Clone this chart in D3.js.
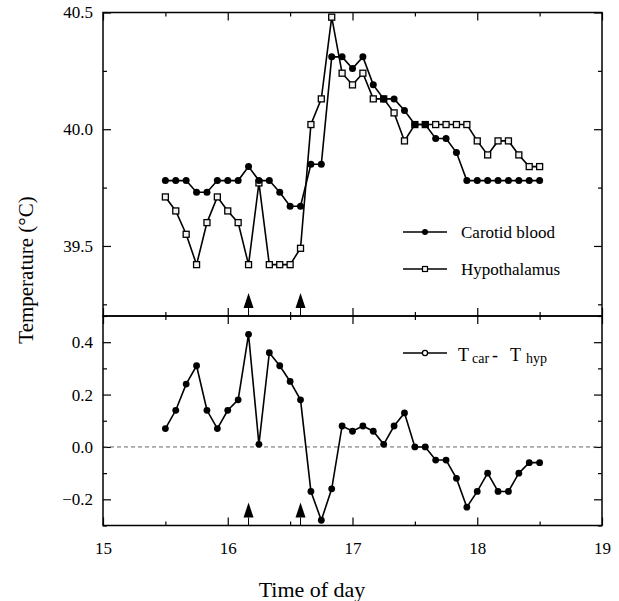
<!DOCTYPE html>
<html>
<head>
<meta charset="utf-8">
<script src="https://cdn.jsdelivr.net/npm/d3@7"></script>
<style>
  body { margin: 0; background: #fff; }
  svg { display: block; }
  text { font-family: "Liberation Serif", "Times New Roman", serif; fill: #000; }
</style>
</head>
<body>
<svg id="chart" width="619" height="601"></svg>
<script>
// Sampling times (every 5 min)
const times = ["15:30","15:35","15:40","15:45","15:50","15:55","16:00","16:05","16:10","16:15",
               "16:20","16:25","16:30","16:35","16:40","16:45","16:50","16:55","17:00","17:05",
               "17:10","17:15","17:20","17:25","17:30","17:35","17:40","17:45","17:50","17:55",
               "18:00","18:05","18:10","18:15","18:20","18:25","18:30"];

// Carotid blood temperature (°C)
const carotid = [39.78,39.78,39.78,39.73,39.73,39.78,39.78,39.78,39.84,39.78,
                 39.78,39.73,39.67,39.67,39.85,39.85,40.31,40.31,40.26,40.31,
                 40.19,40.13,40.13,40.08,40.02,40.02,39.96,39.96,39.90,39.78,
                 39.78,39.78,39.78,39.78,39.78,39.78,39.78];

// Hypothalamic temperature (°C)
const hypothalamus = [39.71,39.65,39.55,39.42,39.60,39.71,39.65,39.60,39.42,39.77,
                      39.42,39.42,39.42,39.49,40.02,40.13,40.48,40.24,40.19,40.24,
                      40.13,40.13,40.07,39.95,40.02,40.02,40.02,40.02,40.02,40.02,
                      39.95,39.89,39.95,39.95,39.89,39.84,39.84];

// T car - T hyp (°C)
const difference = [0.07,0.14,0.24,0.31,0.14,0.07,0.14,0.18,0.43,0.01,
                    0.36,0.31,0.25,0.18,-0.17,-0.28,-0.16,0.08,0.06,0.08,
                    0.06,0.01,0.08,0.13,0.00,0.00,-0.05,-0.05,-0.12,-0.23,
                    -0.17,-0.10,-0.17,-0.17,-0.10,-0.06,-0.06];

// Event markers
const arrowTimes = ["16:10","16:35"];

// Axis ticks
const xMajor = [15,16,17,18,19];
const xMinor = [15.5,16.5,17.5,18.5];
const topMajor = [39.5,40.0,40.5];
const topMinor = [39.25,39.75,40.25];
const botMajor = [-0.2,0.0,0.2,0.4];
const botMinor = [-0.3,-0.1,0.1,0.3,0.5];

const toHours = s => { const [h, m] = s.split(":").map(Number); return h + m / 60; };

const SERIF = '"Liberation Serif", "Times New Roman", serif';
const svg = d3.select("#chart");

const L = 103, R = 602, T0 = 12.5, MID = 316, B = 525.5;
const x = d3.scaleLinear().domain([15, 19]).range([L, R]);
const yTop = d3.scaleLinear().domain([39.2, 40.5]).range([MID, T0]);
const yBot = d3.scaleLinear().domain([-0.3, 0.5]).range([B, MID]);

const fmt = d3.format(".1f");
const MAJ = 8, MIN = 4;

function axis(gen, size, values, format, tx, ty, showLabels) {
  const a = gen.tickValues(values).tickSize(-size).tickPadding(showLabels ? 10 : 0)
    .tickFormat(showLabels ? format : "");
  const g = svg.append("g").attr("transform", `translate(${tx},${ty})`).call(a)
    .attr("font-family", SERIF).attr("font-size", 17);
  g.select(".domain").remove();
  g.selectAll(".tick line").attr("stroke", "#000").attr("stroke-width", 1.2);
  g.selectAll("text").attr("font-family", SERIF).style("font-family", SERIF).style("font-size", "17px");
  return g;
}

// Top panel ticks
axis(d3.axisLeft(yTop), MAJ, topMajor, fmt, L, 0, true);
axis(d3.axisLeft(yTop), MIN, topMinor, fmt, L, 0, false);
axis(d3.axisRight(yTop), MAJ, topMajor, fmt, R, 0, false);
axis(d3.axisRight(yTop), MIN, topMinor, fmt, R, 0, false);
axis(d3.axisTop(x), MAJ, xMajor, null, 0, T0, false);
axis(d3.axisTop(x), MIN, xMinor, null, 0, T0, false);
axis(d3.axisBottom(x), MAJ, xMajor, null, 0, MID, false);
axis(d3.axisBottom(x), MIN, xMinor, null, 0, MID, false);

// Bottom panel ticks
axis(d3.axisLeft(yBot), MAJ, botMajor, fmt, L, 0, true);
axis(d3.axisLeft(yBot), MIN, botMinor, fmt, L, 0, false);
axis(d3.axisRight(yBot), MAJ, botMajor, fmt, R, 0, false);
axis(d3.axisRight(yBot), MIN, botMinor, fmt, R, 0, false);
axis(d3.axisTop(x), MAJ, xMajor, null, 0, MID, false);
axis(d3.axisTop(x), MIN, xMinor, null, 0, MID, false);
const xb = axis(d3.axisBottom(x), MAJ, xMajor, d3.format("d"), 0, B, true);
xb.selectAll("text").attr("y", 16);
axis(d3.axisBottom(x), MIN, xMinor, null, 0, B, false);

// Zero reference line
svg.append("line")
  .attr("x1", L).attr("x2", R).attr("y1", yBot(0)).attr("y2", yBot(0))
  .attr("stroke", "#666").attr("stroke-width", 1).attr("stroke-dasharray", "4,3");

// Event arrows in both panels
arrowTimes.map(toHours).forEach(t => {
  const ax = x(t);
  [[MID, 8], [B, 8]].forEach(([base, stem]) => {
    svg.append("line").attr("x1", ax).attr("x2", ax).attr("y1", base - stem).attr("y2", base)
      .attr("stroke", "#000").attr("stroke-width", 1);
    svg.append("path")
      .attr("d", `M${ax - 5},${base - stem} L${ax + 5},${base - stem} L${ax},${base - stem - 15} Z`)
      .attr("fill", "#000");
  });
});

// Panel frames
svg.append("rect").attr("x", L).attr("y", T0).attr("width", R - L).attr("height", MID - T0)
  .attr("fill", "none").attr("stroke", "#000").attr("stroke-width", 1.5);
svg.append("rect").attr("x", L).attr("y", MID).attr("width", R - L).attr("height", B - MID)
  .attr("fill", "none").attr("stroke", "#000").attr("stroke-width", 1.5);

const hours = times.map(toHours);
const lineStyle = sel => sel.attr("fill", "none").attr("stroke", "#000").attr("stroke-width", 1.6);

// Hypothalamus series
const hypPts = hours.map((t, i) => [x(t), yTop(hypothalamus[i])]);
svg.append("path").attr("d", d3.line()(hypPts)).call(lineStyle);
svg.append("g").selectAll("rect").data(hypPts).join("rect")
  .attr("x", d => d[0] - 3).attr("y", d => d[1] - 3).attr("width", 6).attr("height", 6)
  .attr("fill", "#f2f2f2").attr("stroke", "#000").attr("stroke-width", 1.3);

// Carotid series
const carPts = hours.map((t, i) => [x(t), yTop(carotid[i])]);
svg.append("path").attr("d", d3.line()(carPts)).call(lineStyle);
svg.append("g").selectAll("circle").data(carPts).join("circle")
  .attr("cx", d => d[0]).attr("cy", d => d[1]).attr("r", 3.5).attr("fill", "#000");

// Difference series
const difPts = hours.map((t, i) => [x(t), yBot(difference[i])]);
svg.append("path").attr("d", d3.line()(difPts)).call(lineStyle);
svg.append("g").selectAll("circle").data(difPts).join("circle")
  .attr("cx", d => d[0]).attr("cy", d => d[1]).attr("r", 3.4).attr("fill", "#000");

// Legend – top panel
const leg = svg.append("g");
leg.append("line").attr("x1", 403).attr("x2", 447).attr("y1", 232).attr("y2", 232).call(lineStyle);
leg.append("circle").attr("cx", 425).attr("cy", 232).attr("r", 3).attr("fill", "#000");
leg.append("text").attr("x", 461).attr("y", 238).style("font-size", "17px").text("Carotid blood");
leg.append("line").attr("x1", 403).attr("x2", 447).attr("y1", 269).attr("y2", 269).call(lineStyle);
leg.append("rect").attr("x", 422.5).attr("y", 266.5).attr("width", 5).attr("height", 5)
  .attr("fill", "#f2f2f2").attr("stroke", "#000").attr("stroke-width", 1.2);
leg.append("text").attr("x", 461).attr("y", 275).style("font-size", "17px").text("Hypothalamus");

// Legend – bottom panel
leg.append("line").attr("x1", 403).attr("x2", 447).attr("y1", 353).attr("y2", 353).call(lineStyle);
leg.append("circle").attr("cx", 425).attr("cy", 353).attr("r", 2.6)
  .attr("fill", "#fff").attr("stroke", "#000").attr("stroke-width", 1.3);
const lt = leg.append("text").attr("y", 361).style("font-size", "18px");
lt.append("tspan").attr("x", 458).text("T");
lt.append("tspan").attr("x", 472).attr("dy", 2).style("font-size", "14px").text("car");
lt.append("tspan").attr("x", 492).attr("dy", -2).text("-");
lt.append("tspan").attr("x", 510).text("T");
lt.append("tspan").attr("x", 526).attr("dy", 2).style("font-size", "14px").text("hyp");

// Axis titles
svg.append("text").attr("transform", "translate(33,270) rotate(-90)")
  .attr("text-anchor", "middle").style("font-size", "21px").text("Temperature (°C)");
svg.append("text").attr("x", 312).attr("y", 597)
  .attr("text-anchor", "middle").style("font-size", "22px").text("Time of day");
</script>
</body>
</html>
